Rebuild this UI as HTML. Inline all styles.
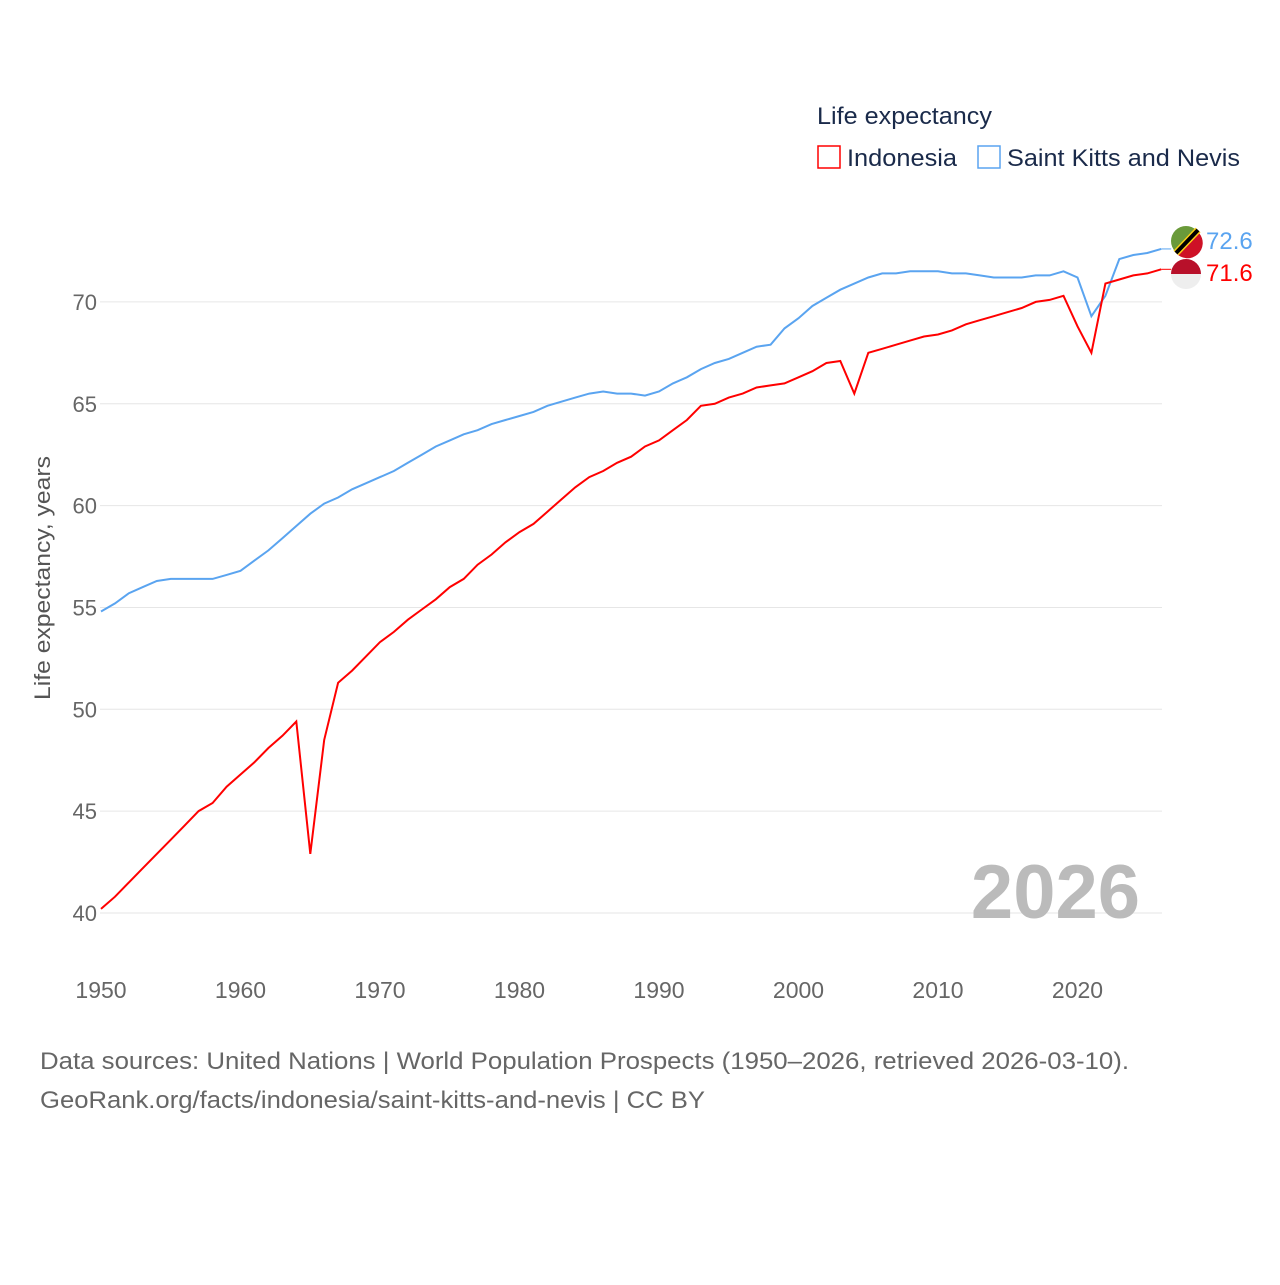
<!DOCTYPE html>
<html><head><meta charset="utf-8"><style>
body{margin:0;background:#fff;}
svg text{font-family:"Liberation Sans",sans-serif;}
</style></head><body>
<svg id="chart" width="1280" height="1280" viewBox="0 0 1280 1280">
<rect width="1280" height="1280" fill="#fff"/>
<g id="grid"></g>
<g id="yt"></g>
<g id="xt"></g>
<text x="50" y="578" transform="rotate(-90 50 578)" text-anchor="middle" font-size="22" fill="#555" textLength="244" lengthAdjust="spacingAndGlyphs">Life expectancy, years</text>
<text x="1140" y="918" text-anchor="end" font-size="76" font-weight="bold" fill="#bbb">2026</text>
<g id="series"></g>
<g>
<text x="817" y="124" font-size="24" fill="#1a2a4a" textLength="175" lengthAdjust="spacingAndGlyphs">Life expectancy</text>
<g><rect x="818" y="146" width="22" height="22" fill="none" stroke="#f00" stroke-width="1.5"/><text x="847" y="166" font-size="24" fill="#1a2a4a" textLength="110" lengthAdjust="spacingAndGlyphs">Indonesia</text></g>
<g><rect x="978" y="146" width="22" height="22" fill="none" stroke="#5aa4f0" stroke-width="1.5"/><text x="1007" y="166" font-size="24" fill="#1a2a4a" textLength="233" lengthAdjust="spacingAndGlyphs">Saint Kitts and Nevis</text></g>
</g>
<g><circle cx="1186" cy="241" r="15" fill="#6a9a3a"/><path d="M1199 233 A15 15 0 0 1 1176 253 Z" fill="#ce1126"/><line x1="1176" y1="253" x2="1198" y2="230" stroke="#fcd116" stroke-width="7"/><line x1="1176" y1="253" x2="1198" y2="230" stroke="#000" stroke-width="4"/></g>
<g><circle cx="1186" cy="274" r="15" fill="#eee"/><path d="M1171 274 A15 15 0 0 1 1201 274 Z" fill="#b8102a"/></g>
<text x="1206" y="249" font-size="24" fill="#5aa4f0">72.6</text>
<text x="1206" y="281" font-size="24" fill="#f00">71.6</text>
<text x="40" y="1069" font-size="24" fill="#666" textLength="1089" lengthAdjust="spacingAndGlyphs">Data sources: United Nations | World Population Prospects (1950–2026, retrieved 2026-03-10).</text>
<text x="40" y="1108" font-size="24" fill="#666" textLength="665" lengthAdjust="spacingAndGlyphs">GeoRank.org/facts/indonesia/saint-kitts-and-nevis | CC BY</text>
</svg>
<script>
const startYear = 1950;
const xTicks = [1950,1960,1970,1980,1990,2000,2010,2020];
const yTicks = [40,45,50,55,60,65,70];
const indonesia = [40.2,40.8,41.5,42.2,42.9,43.6,44.3,45.0,45.4,46.2,46.8,47.4,48.1,48.7,49.4,42.9,48.5,51.3,51.9,52.6,53.3,53.8,54.4,54.9,55.4,56.0,56.4,57.1,57.6,58.2,58.7,59.1,59.7,60.3,60.9,61.4,61.7,62.1,62.4,62.9,63.2,63.7,64.2,64.9,65.0,65.3,65.5,65.8,65.9,66.0,66.3,66.6,67.0,67.1,65.5,67.5,67.7,67.9,68.1,68.3,68.4,68.6,68.9,69.1,69.3,69.5,69.7,70.0,70.1,70.3,68.8,67.5,70.9,71.1,71.3,71.4,71.6];
const saintKitts = [54.8,55.2,55.7,56.0,56.3,56.4,56.4,56.4,56.4,56.6,56.8,57.3,57.8,58.4,59.0,59.6,60.1,60.4,60.8,61.1,61.4,61.7,62.1,62.5,62.9,63.2,63.5,63.7,64.0,64.2,64.4,64.6,64.9,65.1,65.3,65.5,65.6,65.5,65.5,65.4,65.6,66.0,66.3,66.7,67.0,67.2,67.5,67.8,67.9,68.7,69.2,69.8,70.2,70.6,70.9,71.2,71.4,71.4,71.5,71.5,71.5,71.4,71.4,71.3,71.2,71.2,71.2,71.3,71.3,71.5,71.2,69.3,70.3,72.1,72.3,72.4,72.6];
const NS="http://www.w3.org/2000/svg";
const xS = yr => 101 + (yr-1950)*13.95;
const yS = v => 913 - (v-40)*20.37;
const grid=document.getElementById('grid'), yt=document.getElementById('yt'), xt=document.getElementById('xt'), ser=document.getElementById('series');
yTicks.forEach(v=>{
  const l=document.createElementNS(NS,'line');
  l.setAttribute('x1',100);l.setAttribute('x2',1162);l.setAttribute('y1',yS(v));l.setAttribute('y2',yS(v));
  l.setAttribute('stroke','#e6e6e6');l.setAttribute('stroke-width','1');
  
  
  grid.appendChild(l);
  const t=document.createElementNS(NS,'text');
  t.setAttribute('x',97);t.setAttribute('y',yS(v)+8);t.setAttribute('text-anchor','end');
  t.setAttribute('font-size','22');t.setAttribute('fill','#666');t.textContent=v;
  
  
  yt.appendChild(t);
});
xTicks.forEach(v=>{
  const t=document.createElementNS(NS,'text');
  t.setAttribute('x',xS(v));t.setAttribute('y',998);t.setAttribute('text-anchor','middle');
  t.setAttribute('font-size','23');t.setAttribute('fill','#666');t.textContent=v;
  
  
  xt.appendChild(t);
});
function line(data,color,name){
  const p=document.createElementNS(NS,'polyline');
  p.setAttribute('points',data.map((v,i)=>xS(startYear+i).toFixed(1)+','+yS(v).toFixed(1)).join(' '));
  p.setAttribute('fill','none');p.setAttribute('stroke',color);p.setAttribute('stroke-width','2');
  
  
  ser.appendChild(p);
  const lx=xS(startYear+data.length-1), ly=yS(data[data.length-1]);
  const c=document.createElementNS(NS,'polyline');
  c.setAttribute('points',`${lx},${ly} ${lx+10},${ly}`);
  c.setAttribute('fill','none');c.setAttribute('stroke',color);c.setAttribute('stroke-width','1');
  
  
  ser.appendChild(c);
}
line(saintKitts,'#5aa4f0','line-saint-kitts');
line(indonesia,'#f00','line-indonesia');
</script>
</body></html>
